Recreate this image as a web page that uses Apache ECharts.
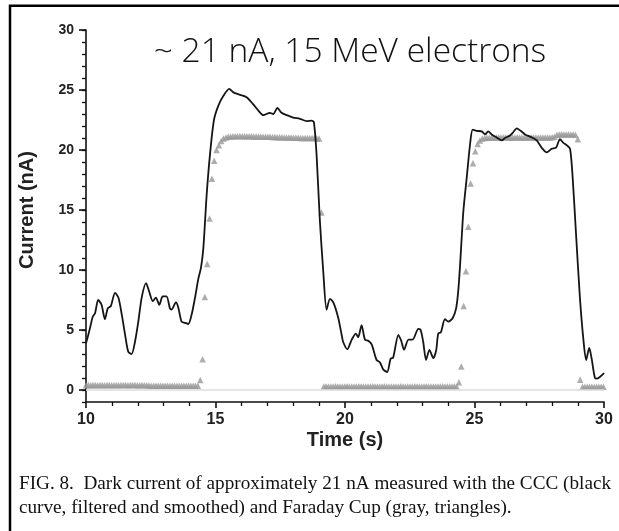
<!DOCTYPE html>
<html>
<head>
<meta charset="utf-8">
<script src="https://cdn.jsdelivr.net/npm/echarts@6/dist/echarts.min.js"></script>
<style>
html,body{margin:0;padding:0;background:#fff;}
#chart{width:619px;height:531px;}
</style>
</head>
<body>
<div id="chart"></div>
<script>
// ---- CCC (black curve) ----
const ccTime = [10.00,10.09,10.18,10.26,10.35,10.47,10.60,10.73,10.84,10.96,11.12,11.25,11.38,11.51,11.63,11.76,11.89,12.02,12.15,12.32,12.44,12.58,12.70,12.83,12.96,13.11,13.24,13.30,13.47,13.56,13.69,13.82,13.95,14.08,14.21,14.34,14.44,14.53,14.66,14.79,14.94,15.11,15.30,15.53,15.69,15.95,16.20,16.46,16.65,16.85,17.10,17.23,17.39,17.55,17.75,18.00,18.26,18.52,18.71,18.80,18.90,19.03,19.16,19.29,19.42,19.55,19.74,19.87,19.93,20.09,20.26,20.42,20.51,20.64,20.77,20.90,21.03,21.22,21.35,21.48,21.63,21.76,21.86,22.06,22.17,22.28,22.45,22.61,22.83,22.92,23.02,23.13,23.26,23.41,23.52,23.60,23.70,23.86,23.99,24.16,24.29,24.37,24.44,24.57,24.70,24.83,24.93,25.08,25.28,25.41,25.53,25.66,25.85,26.05,26.18,26.37,26.50,26.63,26.78,26.95,27.21,27.40,27.59,27.79,27.98,28.15,28.30,28.43,28.56,28.69,28.79,28.92,29.07,29.20,29.31,29.43,29.52,29.65,29.74,29.85,30.00];
const ccCurrent = [3.9,4.6,5.4,6.1,6.4,7.5,7.1,5.9,6.8,7.0,8.1,7.7,6.3,4.6,3.2,3.0,4.0,5.7,7.7,8.9,8.2,7.4,7.7,7.1,7.8,7.8,6.8,6.7,7.3,6.9,5.7,5.6,5.5,6.3,7.7,9.3,10.2,11.8,16.3,19.7,22.5,23.7,24.5,25.1,24.8,24.6,24.4,23.8,23.3,22.9,23.1,23.0,23.5,23.1,22.9,22.7,22.6,22.4,22.45,22.3,19.7,14.1,9.9,6.7,7.6,7.3,6.0,4.6,4.0,3.4,4.2,4.7,4.4,5.4,4.2,4.1,3.8,2.5,2.3,1.7,1.5,2.6,2.7,4.6,4.1,3.35,4.2,4.2,5.1,5.0,4.0,2.5,3.35,2.65,3.3,4.7,4.8,5.9,5.7,6.0,6.8,8.2,10.3,14.9,17.7,20.5,21.7,21.6,21.55,21.3,21.55,21.3,21.05,20.8,21.0,21.2,21.5,21.8,21.6,21.3,21.05,20.8,20.2,19.8,20.1,20.2,20.9,20.6,20.4,20.1,17.7,13.0,7.7,4.3,2.5,3.5,2.65,1.0,0.95,1.1,1.4];

// ---- Faraday Cup (gray triangles), sampled every fcStep seconds from fcStart ----
const fcStart = 10.0;
const fcStep = 0.09;
const fcCurrent = [
 0.40,0.41,0.40,0.42,0.41,0.40,0.41,0.42,0.40,0.41,0.41,0.40,0.42,0.41,0.40,0.41,0.42,0.41,0.40,0.41,0.42,0.41,0.40,0.40,0.41,0.40,0.39,0.38,
 0.36,0.35,0.36,0.35,0.36,0.36,0.35,0.36,0.35,0.36,0.35,0.36,0.36,0.35,0.36,0.35,0.36,0.35,0.36,0.35,0.36,
 0.84,2.56,7.75,10.5,14.3,17.6,19.1,20.0,20.4,20.75,20.95,21.05,
 21.10,21.12,21.14,21.15,21.15,21.16,21.15,21.15,21.14,21.15,21.14,21.13,21.13,21.12,21.12,21.11,21.11,21.10,21.10,21.09,
 21.08,21.07,21.07,21.06,21.05,21.05,21.04,21.04,21.03,21.02,21.02,21.01,21.01,21.00,21.00,21.00,20.99,20.99,20.98,20.95,
 14.8,
 0.30,0.31,0.30,0.29,0.30,0.31,0.30,0.30,0.29,0.30,
 0.31,0.30,0.30,0.29,0.30,0.31,0.30,0.30,0.29,0.30,
 0.30,0.31,0.30,0.29,0.30,0.30,0.31,0.30,0.29,0.30,
 0.30,0.29,0.30,0.31,0.30,0.30,0.29,0.30,0.30,0.31,
 0.30,0.29,0.30,0.30,0.31,0.30,0.29,0.30,0.30,0.29,
 0.30,0.31,0.30,0.29,0.30,0.30,0.31,0.30,
 0.64,1.95,7.0,9.9,13.6,17.2,18.9,19.9,20.5,20.8,20.95,
 21.00,21.02,21.03,21.04,21.05,21.05,21.06,21.05,21.05,21.06,21.05,21.04,21.05,21.05,21.06,21.05,21.05,21.04,21.05,21.05,21.06,21.05,21.05,21.04,21.05,21.05,21.04,21.05,21.05,21.06,21.10,
 21.28,21.30,21.31,21.30,21.30,21.31,21.30,21.30,21.28,
 20.9,
 0.85,
 0.28,0.27,0.28,0.28,0.27,0.28,0.28,0.27,0.28,0.28
];

// ---- axes / text ----
const xTicks = [10, 15, 20, 25, 30];
const yTicks = [0, 5, 10, 15, 20, 25, 30];
const titleText = '~ 21 nA, 15 MeV electrons';
const xTitle = 'Time (s)';
const yTitle = 'Current (nA)';
const captionLines = [
  'FIG. 8.  Dark current of approximately 21 nA measured with the CCC (black',
  'curve, filtered and smoothed) and Faraday Cup (gray, triangles).'
];

const ccData = ccTime.map((t, i) => [t, ccCurrent[i]]);
const fcData = fcCurrent.map((v, i) => [+(fcStart + i * fcStep).toFixed(3), v]);

const chart = echarts.init(document.getElementById('chart'), null, {renderer: 'canvas'});
const axisFont = 'Liberation Sans, Arial, sans-serif';

chart.setOption({
  animation: false,
  backgroundColor: '#fff',
  grid: {left: 86, right: 15, top: 30, height: 372, containLabel: false, outerBoundsMode: 'none'},
  xAxis: {
    type: 'value', min: 10, max: 30, interval: 5,
    axisLine: {show: true, onZero: false, lineStyle: {color: '#111', width: 1.6}},
    axisTick: {show: true, inside: false, length: 6, lineStyle: {color: '#111', width: 1.6}},
    minorTick: {show: true, splitNumber: 5, length: 4, lineStyle: {color: '#111', width: 1.3}},
    axisLabel: {fontFamily: axisFont, fontWeight: 'bold', fontSize: 16, color: '#222', margin: 10},
    splitLine: {show: false}
  },
  yAxis: [{
    type: 'value', min: -1, max: 30,
    axisLine: {show: true, onZero: false, lineStyle: {color: '#111', width: 1.6}},
    axisTick: {show: true, inside: false, length: 7, customValues: yTicks, lineStyle: {color: '#111', width: 1.6}},
    axisLabel: {fontFamily: axisFont, fontWeight: 'bold', fontSize: 14, color: '#222', margin: 12, customValues: yTicks},
    splitLine: {show: false}
  }, {
    type: 'value', min: -1, max: 30, interval: 1, position: 'left',
    axisLine: {show: false},
    axisTick: {show: true, inside: false, length: 4, lineStyle: {color: '#111', width: 1.3}},
    axisLabel: {show: false},
    splitLine: {show: false}
  }],
  series: [{
    type: 'scatter', name: 'Faraday Cup', data: fcData,
    symbol: 'triangle', symbolSize: 6.5,
    itemStyle: {color: '#999999'},
    z: 2,
    markLine: {
      silent: true, symbol: 'none', label: {show: false},
      lineStyle: {color: '#dcdcdc', width: 1.5, type: 'solid'},
      data: [{yAxis: 0}]
    }
  }, {
    type: 'line', name: 'CCC', data: ccData,
    showSymbol: false, smooth: 0.25,
    lineStyle: {color: '#151515', width: 1.8},
    z: 3
  }],
  graphic: [
    {type: 'polyline', shape: {points: [[10, 531], [10, 5.7], [619, 5.7]]}, style: {stroke: '#000', lineWidth: 2.5, fill: null}},
    {type: 'text', x: 350, y: 52, style: {text: titleText, font: '300 33.5px "Open Sans", sans-serif', fill: '#111', align: 'center', verticalAlign: 'middle'}},
    {type: 'text', x: 345, y: 440, style: {text: xTitle, font: 'bold 20px "Liberation Sans", Arial, sans-serif', fill: '#222', align: 'center', verticalAlign: 'middle'}},
    {type: 'text', x: 27, y: 210, rotation: Math.PI / 2, style: {text: yTitle, font: 'bold 20px "Liberation Sans", Arial, sans-serif', fill: '#222', align: 'center', verticalAlign: 'middle'}},
    {type: 'text', x: 19, y: 484, style: {text: captionLines[0], font: '19.2px "Liberation Serif", "Times New Roman", serif', fill: '#111', align: 'left', verticalAlign: 'middle'}},
    {type: 'text', x: 19, y: 508, style: {text: captionLines[1], font: '19.2px "Liberation Serif", "Times New Roman", serif', fill: '#111', align: 'left', verticalAlign: 'middle'}}
  ]
});
</script>
</body>
</html>
